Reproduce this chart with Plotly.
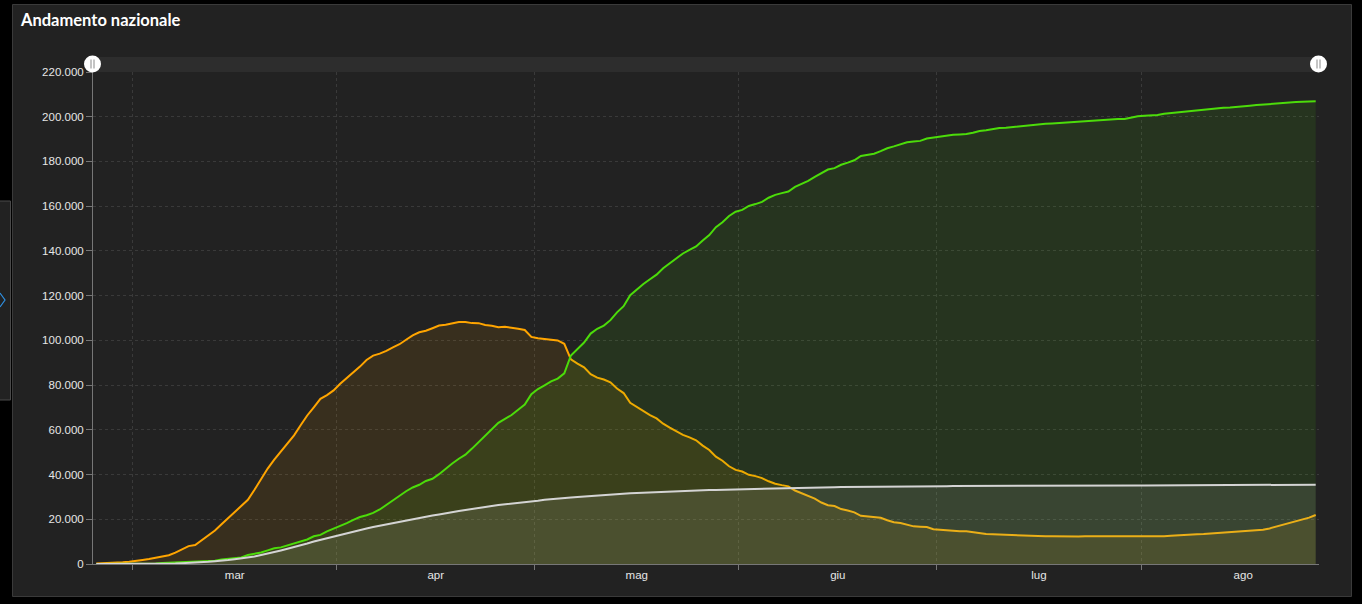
import pandas as pd
import plotly.graph_objects as go

# giorni dal 24 febbraio al 27 agosto 2020 (punto a metà giornata)
giorni = pd.date_range('2020-02-24 12:00', periods=186, freq='D')

totale_positivi = [
    221, 311, 385, 588, 821, 1049,
    1577, 1835, 2263, 2706, 3296, 3916, 5061, 6387, 7985, 8514,
    10590, 12839, 14955, 17750, 20603, 23073, 26062, 28710, 33190, 37860,
    42681, 46638, 50418, 54030, 57521, 62013, 66414, 70065, 73880, 75528, 77635,
    80572, 83049, 85388, 88274, 91246, 93187, 94067, 95262, 96877, 98273,
    100269, 102253, 103616, 104291, 105418, 106607, 106962, 107771, 108257, 108237,
    107709, 107699, 106848, 106527, 105847, 106103, 105813, 105205, 104657, 101551,
    100943, 100704, 100179, 99980, 98467, 91528, 89624, 87961, 84842, 83324,
    82488, 81266, 78457, 76440, 72070, 70187, 68351, 66553, 65129, 62752,
    60960, 59322, 57752, 56594, 55300, 52942, 50966, 47986, 46175, 43691, 42075,
    41367, 39893, 39297, 38429, 36976, 35877, 35262, 34730, 32872, 31710,
    30637, 29222, 27485, 26274, 25909, 24569, 23925, 23101, 21543, 21212,
    20972, 20637, 19573, 18655, 18303, 17638, 16836, 16681, 16496, 15563,
    15255, 15060, 14884, 14621, 14642, 14242, 13595, 13459, 13303, 13179,
    13157, 12919, 12890, 12581, 12493, 12456, 12404, 12440, 12368, 12301,
    12322, 12248, 12456, 12442, 12482, 12565, 12581, 12616, 12609, 12404, 12422,
    12457, 12474, 12482, 12456, 12616, 12694, 12924, 13063, 13263, 13368,
    13595, 13791, 14081, 14406, 14620, 14733, 14867, 15089, 15360, 15903,
    16678, 17503, 18438, 19195, 19714, 20753, 21932,
]

dimessi_guariti = [
    1, 1, 3, 45, 46, 50,
    83, 149, 160, 276, 414, 523, 589, 622, 724, 1004,
    1045, 1258, 1439, 1966, 2335, 2749, 2941, 4025, 4440, 5129,
    6072, 7024, 7432, 8326, 9362, 10361, 10950, 12384, 13030, 14620, 15729,
    16847, 18278, 19758, 20996, 21815, 22837, 24392, 26491, 28470, 30455,
    32534, 34211, 35435, 37130, 38092, 40164, 42727, 44927, 47055, 48877,
    51600, 54543, 57576, 60498, 63120, 64928, 66624, 68941, 71252, 75945,
    78249, 79914, 81654, 82879, 85231, 93245, 96276, 99023, 103031, 105186,
    106587, 109039, 112541, 115288, 120205, 122810, 125176, 127326, 129401, 132282,
    134560, 136720, 138840, 140479, 141981, 144658, 147101, 150604, 152844, 155633, 157507,
    158355, 160092, 160938, 161895, 163781, 165078, 165837, 166584, 168646, 169939,
    171338, 173085, 174865, 176370, 177010, 178526, 179455, 180544, 182453, 182893,
    183426, 184585, 185894, 186725, 187615, 188584, 188891, 189196, 190248, 190717,
    191083, 191467, 191944, 192108, 192241, 192815, 193640, 193978, 194579, 194928,
    195106, 195441, 195603, 196016, 196246, 196483, 196806, 196949, 197162, 197431,
    197628, 197842, 198192, 198446, 198593, 198756, 198806, 198984, 199031, 199796, 200229,
    200460, 200589, 200766, 201323, 201642, 201947, 202248, 202697, 202923, 203326,
    203640, 203786, 203968, 204142, 204506, 204686, 204960, 205203, 205470, 205662,
    205959, 206131, 206329, 206554, 206654, 206752, 206902,
]

deceduti = [
    7, 10, 12, 17, 21, 29,
    34, 52, 79, 107, 148, 197, 233, 366, 463, 631,
    827, 1016, 1266, 1441, 1809, 2158, 2503, 2978, 3405, 4032,
    4825, 5476, 6077, 6820, 7503, 8165, 9134, 10023, 10779, 11591, 12428,
    13155, 13915, 14681, 15362, 15887, 16523, 17127, 17669, 18279, 18849,
    19468, 19899, 20465, 21067, 21645, 22170, 22745, 23227, 23660, 24114,
    24648, 25085, 25549, 25969, 26384, 26644, 26977, 27359, 27682, 27967,
    28236, 28710, 28884, 29079, 29315, 29684, 29958, 30201, 30395, 30560,
    30739, 30911, 31106, 31368, 31610, 31763, 31908, 32007, 32169, 32330,
    32486, 32616, 32735, 32785, 32877, 32955, 33072, 33142, 33229, 33340, 33415,
    33475, 33530, 33601, 33689, 33774, 33846, 33899, 33964, 34043, 34114,
    34167, 34223, 34301, 34345, 34371, 34405, 34448, 34514, 34561, 34610,
    34634, 34657, 34675, 34644, 34678, 34708, 34716, 34738, 34744, 34767,
    34788, 34818, 34833, 34854, 34861, 34869, 34899, 34914, 34926, 34938,
    34945, 34954, 34967, 34984, 34997, 35017, 35028, 35042, 35045, 35058,
    35073, 35082, 35092, 35097, 35102, 35107, 35112, 35123, 35129, 35132, 35141,
    35146, 35154, 35166, 35171, 35181, 35187, 35190, 35203, 35205, 35209,
    35215, 35225, 35231, 35234, 35392, 35396, 35400, 35405, 35412, 35418,
    35427, 35430, 35437, 35441, 35445, 35458, 35463,
]

mesi = ['mar', 'apr', 'mag', 'giu', 'lug', 'ago']
tick_y = list(range(0, 220001, 20000))

# inizio mese (griglia) e metà mese (etichette)
inizio_mesi = pd.date_range('2020-03-01', '2020-09-01', freq='MS')
meta_mesi = [inizio_mesi[i] + (inizio_mesi[i + 1] - inizio_mesi[i]) / 2 for i in range(len(mesi))]

W, H = 1362, 604
L, R, T, B = 93, 43, 72, 40
pw, ph = W - L - R, H - T - B


# da pixel a coordinate paper
def px(x):
    return (x - L) / pw


def py(y):
    return (H - B - y) / ph


fig = go.Figure()

serie = [
    ('Totale positivi', totale_positivi, '#ffa500', 'rgba(255,165,0,0.1)'),
    ('Dimessi guariti', dimessi_guariti, '#4cdc0a', 'rgba(76,220,10,0.1)'),
    ('Deceduti', deceduti, '#d4d4d4', 'rgba(225,225,225,0.1)'),
]
for nome, valori, colore, riempimento in serie:
    fig.add_trace(go.Scatter(x=giorni, y=valori, name=nome, mode='lines',
                             line=dict(color=colore, width=2),
                             fill='tozeroy', fillcolor=riempimento))

griglia = '#3a3a3a'
asse = '#777777'

fig.update_layout(
    width=W, height=H,
    margin=dict(l=L, r=R, t=T, b=B),
    paper_bgcolor='#000000',
    plot_bgcolor='rgba(0,0,0,0)',
    separators=',.',
    showlegend=False,
    hovermode='x unified',
    font=dict(family='Liberation Sans', size=11.5, color='#e6e6e6'),
    xaxis=dict(
        type='date',
        range=['2020-02-24', '2020-08-28'],
        tickmode='array', tickvals=meta_mesi, ticktext=mesi,
        ticks='', showgrid=False,
        showline=True, linecolor=asse, linewidth=1,
        minor=dict(tickmode='array', tickvals=list(inizio_mesi[:-1]),
                   ticks='outside', ticklen=5, tickcolor=asse,
                   showgrid=True, gridcolor=griglia, griddash='3px,3px'),
        fixedrange=True,
    ),
    yaxis=dict(
        range=[0, 220000],
        tickmode='array', tickvals=tick_y, tickformat=',d',
        ticks='outside', ticklen=6, tickcolor=asse,
        showgrid=True, gridcolor=griglia, griddash='3px,3px',
        zeroline=False,
        showline=True, linecolor=asse, linewidth=1,
        fixedrange=True,
    ),
)

# pannello, barra di scorrimento e pulsante laterale
P = dict(xref='paper', yref='paper')
forme = [
    dict(type='rect', x0=px(12.5), x1=px(1351.5), y0=py(4.5), y1=py(596.5),
         fillcolor='#222222', line=dict(color='#3a3a3a', width=1), layer='below', **P),
    dict(type='rect', x0=px(-2), x1=px(10.5), y0=py(201), y1=py(400),
         fillcolor='#222222', line=dict(color='#4a4a4a', width=1), layer='below', **P),
    dict(type='path', path='M %f,%f L %f,%f L %f,%f' % (px(0), py(293), px(5), py(300), px(0), py(307)),
         line=dict(color='#2f8fe0', width=1.2), **P),
    dict(type='rect', x0=px(93), x1=px(1319), y0=py(57), y1=py(72),
         fillcolor='#2d2d2d', line=dict(width=0), layer='below', **P),
]
for cx in [92.5, 1318.5]:
    forme.append(dict(type='circle', x0=px(cx - 8.5), x1=px(cx + 8.5), y0=py(55.5), y1=py(72.5),
                      fillcolor='#ffffff', line=dict(color='#ffffff', width=0), **P))
    for dx in [-1.5, 1.5]:
        forme.append(dict(type='line', x0=px(cx + dx), x1=px(cx + dx), y0=py(59.5), y1=py(68.5),
                          line=dict(color='#8a8a8a', width=1), **P))
fig.update_layout(shapes=forme)

# titolo
fig.add_annotation(text='<b>Andamento nazionale</b>', xref='paper', yref='paper',
                   x=px(18), y=py(20), xanchor='left', yanchor='middle', showarrow=False,
                   font=dict(family='Lato', size=16.5, color='#ffffff'))

# niente margine della pagina, niente barra degli strumenti
fig.write_html('out.html', config={'displayModeBar': False},
               post_script="document.body.style.margin='0';document.body.style.background='#000';")
